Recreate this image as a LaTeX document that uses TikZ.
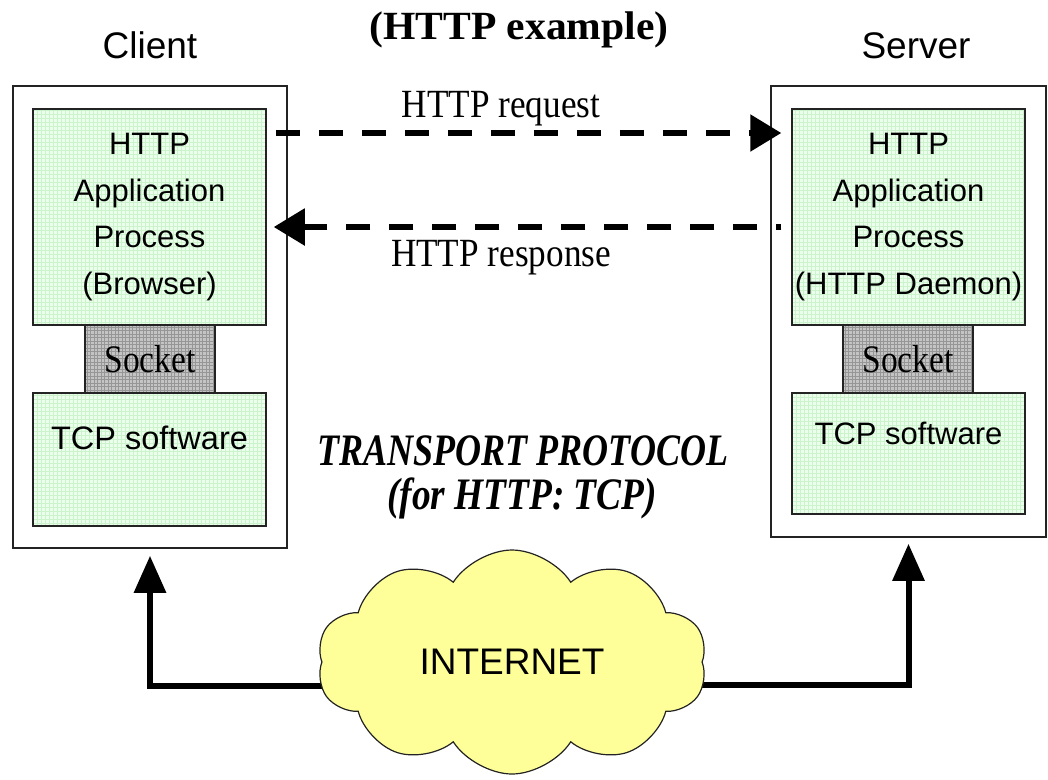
\documentclass[tikz,border=0pt]{standalone}
\usepackage{graphicx}
\usepackage{fontspec}
\setmainfont{Liberation Sans}
\newfontfamily\seriffam{Liberation Serif}
\usetikzlibrary{arrows.meta,shapes.symbols}

\definecolor{appgreen}{RGB}{236,255,236}
\definecolor{gridgreen}{RGB}{204,244,204}
\definecolor{sockgray}{RGB}{196,196,196}
\definecolor{gridgray}{RGB}{150,150,150}
\definecolor{cloudyellow}{RGB}{255,255,153}
\definecolor{edgegray}{RGB}{35,35,35}

\tikzset{
  hostbox/.style={draw=edgegray, line width=1.5pt, fill=white, inner sep=0pt},
  layerbox/.style={draw=edgegray, line width=1.5pt, fill=appgreen, inner sep=0pt,
    align=center, font=\fontsize{31}{46.5}\selectfont,
    path picture={\draw[gridgreen, line width=0.5pt, step=4pt]
      (path picture bounding box.south west) grid (path picture bounding box.north east);}},
  socketbox/.style={draw=edgegray, line width=1.5pt, fill=sockgray, inner sep=0pt,
    font=\seriffam\fontsize{39}{42}\selectfont,
    path picture={\draw[gridgray, line width=0.5pt, step=3.5pt]
      (path picture bounding box.south west) grid (path picture bounding box.north east);}},
  hostlabel/.style={anchor=base, inner sep=0pt, font=\fontsize{37}{40}\selectfont},
  tcplabel/.style={anchor=base, inner sep=0pt},
  msglabel/.style={anchor=base, inner sep=0pt, font=\seriffam\fontsize{40}{44}\selectfont},
  httparrow/.style={line width=5.5pt, dash pattern=on 24pt off 19pt,
    -{Triangle[length=31pt,width=36pt]}},
  netarrow/.style={line width=6pt, line join=miter,
    -{Triangle[length=37pt,width=31pt]}},
  netcloud/.style={cloud, cloud puffs=10, cloud puff arc=115, aspect=1.7,
    draw=edgegray, line width=1.2pt, fill=cloudyellow, inner sep=0pt,
    minimum width=390pt, minimum height=224pt,
    font=\fontsize{37}{40}\selectfont},
}

\begin{document}
\begin{tikzpicture}[x=1pt, y=-1pt]
  \useasboundingbox (0,0) rectangle (1048,779);

  % title
  \node[anchor=base, inner sep=0pt] (title) at (519,39)
    {\scalebox{1.04}[1]{\seriffam\bfseries\fontsize{40}{44}\selectfont (HTTP example)}};

  % client host
  \node[hostlabel] (clientlbl) at (150,58) {Client};
  \node[hostbox, minimum width=274pt, minimum height=462pt] (client) at (150,317) {};
  \node[layerbox, minimum width=233pt, minimum height=216pt] (capp) at (149.5,217)
    {HTTP\\Application\\Process\\(Browser)};
  \node[socketbox, minimum width=130pt, minimum height=68pt] (csock) at (150,359)
    {\scalebox{0.86}[1]{Socket}};
  \node[layerbox, minimum width=233pt, minimum height=133pt] (ctcp) at (149.5,459.5) {};
  \node[tcplabel, font=\fontsize{32.5}{36}\selectfont] (ctcplbl) at (149.5,449) {TCP software};

  % server host
  \node[hostlabel] (serverlbl) at (916,58) {Server};
  \node[hostbox, minimum width=275pt, minimum height=451pt] (server) at (908.5,311.5) {};
  \node[layerbox, minimum width=233pt, minimum height=216pt] (sapp) at (908.5,217)
    {HTTP\\Application\\Process\\(HTTP Daemon)};
  \node[socketbox, minimum width=130pt, minimum height=68pt] (ssock) at (908,359)
    {\scalebox{0.86}[1]{Socket}};
  \node[layerbox, minimum width=233pt, minimum height=121pt] (stcp) at (908.5,453.5) {};
  \node[tcplabel, font=\fontsize{31}{36}\selectfont] (stcplbl) at (908.5,444) {TCP software};

  % HTTP messages
  \draw[httparrow] ([xshift=9pt,yshift=84pt]capp.east) -- ([xshift=-10pt,yshift=84pt]sapp.west);
  \node[msglabel] (reqlbl) at (501,117) {\scalebox{0.88}[1]{HTTP request}};
  \draw[httparrow, dash phase=19pt] ([xshift=-10pt,yshift=-10pt]sapp.west) -- ([xshift=7pt,yshift=-10pt]capp.east);
  \node[msglabel] (reslbl) at (501,266) {\scalebox{0.88}[1]{HTTP response}};

  % transport protocol
  \node[anchor=base, inner sep=0pt, align=center] (tplbl) at (523,465)
    {\scalebox{0.8}[1]{\seriffam\bfseries\itshape\fontsize{45}{48}\selectfont TRANSPORT PROTOCOL}};
  \node[anchor=base, inner sep=0pt] (tplbl2) at (522,509)
    {\scalebox{0.83}[1]{\seriffam\bfseries\itshape\fontsize{45}{48}\selectfont (for HTTP: TCP)}};

  % internet links
  \coordinate (netc) at (512,662);
  \draw[netarrow] ([yshift=-24pt]netc) -| ([yshift=-7pt]client.south);
  \draw[netarrow] ([yshift=-23pt]netc) -| ([yshift=-6pt]server.south);
  \node[netcloud] (net) at (netc) {INTERNET};
\end{tikzpicture}
\end{document}
